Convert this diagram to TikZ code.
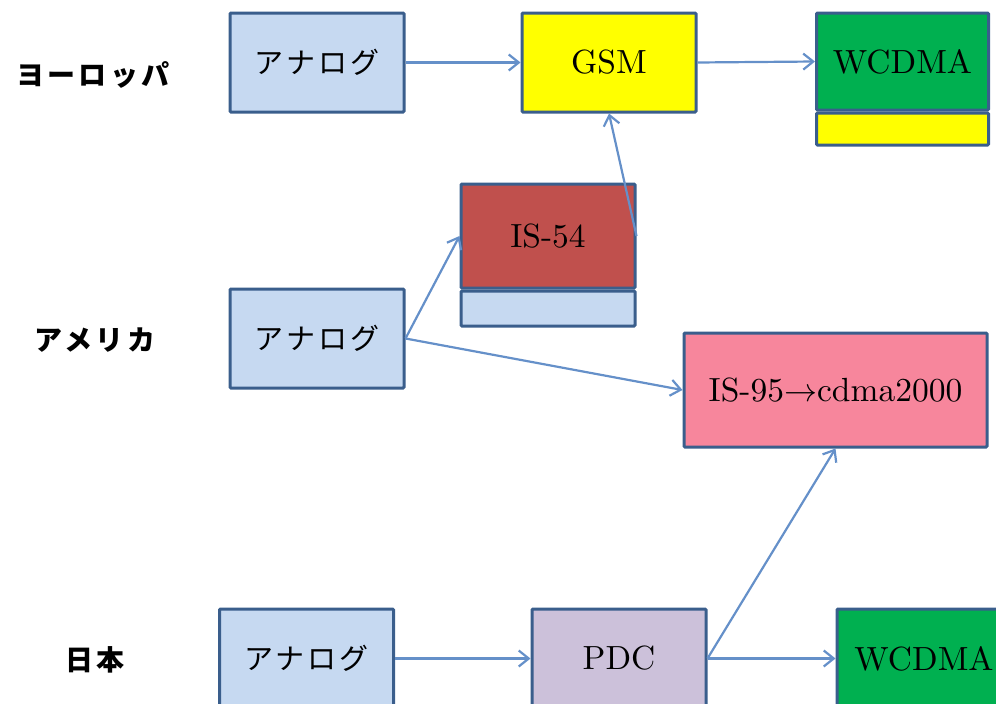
\documentclass[tikz,border=0pt]{standalone}
\usepackage{fontspec}
\setmainfont{lmroman10-regular.otf}
\newfontfamily\jpfont{Noto Sans CJK JP}[LetterSpace=10]
\newfontfamily\jplabel{Noto Sans CJK JP}[LetterSpace=12]
\usetikzlibrary{arrows.meta}

\definecolor{edgeblue}{HTML}{3A5E8C}
\definecolor{linkblue}{HTML}{6590C9}
\definecolor{paleblue}{HTML}{C6D9F1}
\definecolor{gsmyellow}{HTML}{FFFF00}
\definecolor{wgreen}{HTML}{00B050}
\definecolor{isred}{HTML}{C0504D}
\definecolor{cdpink}{HTML}{F7869C}
\definecolor{pdclilac}{HTML}{CCC1DA}

\tikzset{
  sysbox/.style={draw=edgeblue, line width=3pt, rounded corners=1pt,
    minimum width=174pt, minimum height=99pt, inner sep=0pt,
    font=\fontsize{33.5}{40}\selectfont},
  jptext/.style={font=\jpfont\fontsize{29}{36}\selectfont},
  band/.style={draw=edgeblue, line width=3pt, rounded corners=1pt,
    minimum width=174pt, inner sep=0pt, anchor=north},
  region/.style={font=\jplabel\bfseries\fontsize{28}{34}\selectfont},
  flow/.style={draw=linkblue, line width=2.2pt,
    -{Straight Barb[length=10pt,width=16pt,line width=2.2pt]}},
}

\begin{document}
\begin{tikzpicture}[x=1pt, y=-1pt]
  \useasboundingbox (0,0) rectangle (996,704);
  \clip (0,0) rectangle (996,704);

  % region labels
  \node[region] (eu) at (93,75) {ヨーロッパ};
  \node[region] (am) at (95,340) {アメリカ};
  \node[region] (jp) at (95,660) {日本};

  % Europe
  \node[sysbox, fill=paleblue, jptext] (euAna) at (317,62.5) {アナログ};
  \node[sysbox, fill=gsmyellow] (gsm) at (609,62.5) {GSM};
  \node[sysbox, fill=wgreen, minimum width=172pt, minimum height=97pt] (euW) at (902.5,61.5) {WCDMA};
  \node[band, fill=gsmyellow, minimum width=172pt, minimum height=32pt] (euWband) at (euW.south) {};

  % America
  \node[sysbox, fill=isred, minimum height=104pt] (is54) at (548,236) {IS-54};
  \node[band, fill=paleblue, minimum height=35pt] (is54band) at (is54.south) {};
  \node[sysbox, fill=paleblue, jptext] (amAna) at (317,338.5) {アナログ};
  \node[sysbox, fill=cdpink, minimum width=303pt, minimum height=114pt] (cdma) at (835.5,390)
    {IS-95\resizebox{33pt}{!}{$\rightarrow$}cdma2000};

  % Japan
  \node[sysbox, fill=paleblue, jptext] (jpAna) at (306.5,658.5) {アナログ};
  \node[sysbox, fill=pdclilac] (pdc) at (619,658.5) {PDC};
  \node[sysbox, fill=wgreen] (jpW) at (924,658.5) {WCDMA};

  % transitions
  \draw[flow] (euAna.east) -- (gsm.west);
  \draw[flow] (gsm.east) -- (euW.west);
  \draw[flow] (amAna.east) -- (is54.west);
  \draw[flow] (is54.east) -- (gsm.south);
  \draw[flow] (amAna.east) -- (cdma.west);
  \draw[flow] (jpAna.east) -- (pdc.west);
  \draw[flow] (pdc.east) -- (jpW.west);
  \draw[flow] (pdc.east) -- (cdma.south);
\end{tikzpicture}
\end{document}
